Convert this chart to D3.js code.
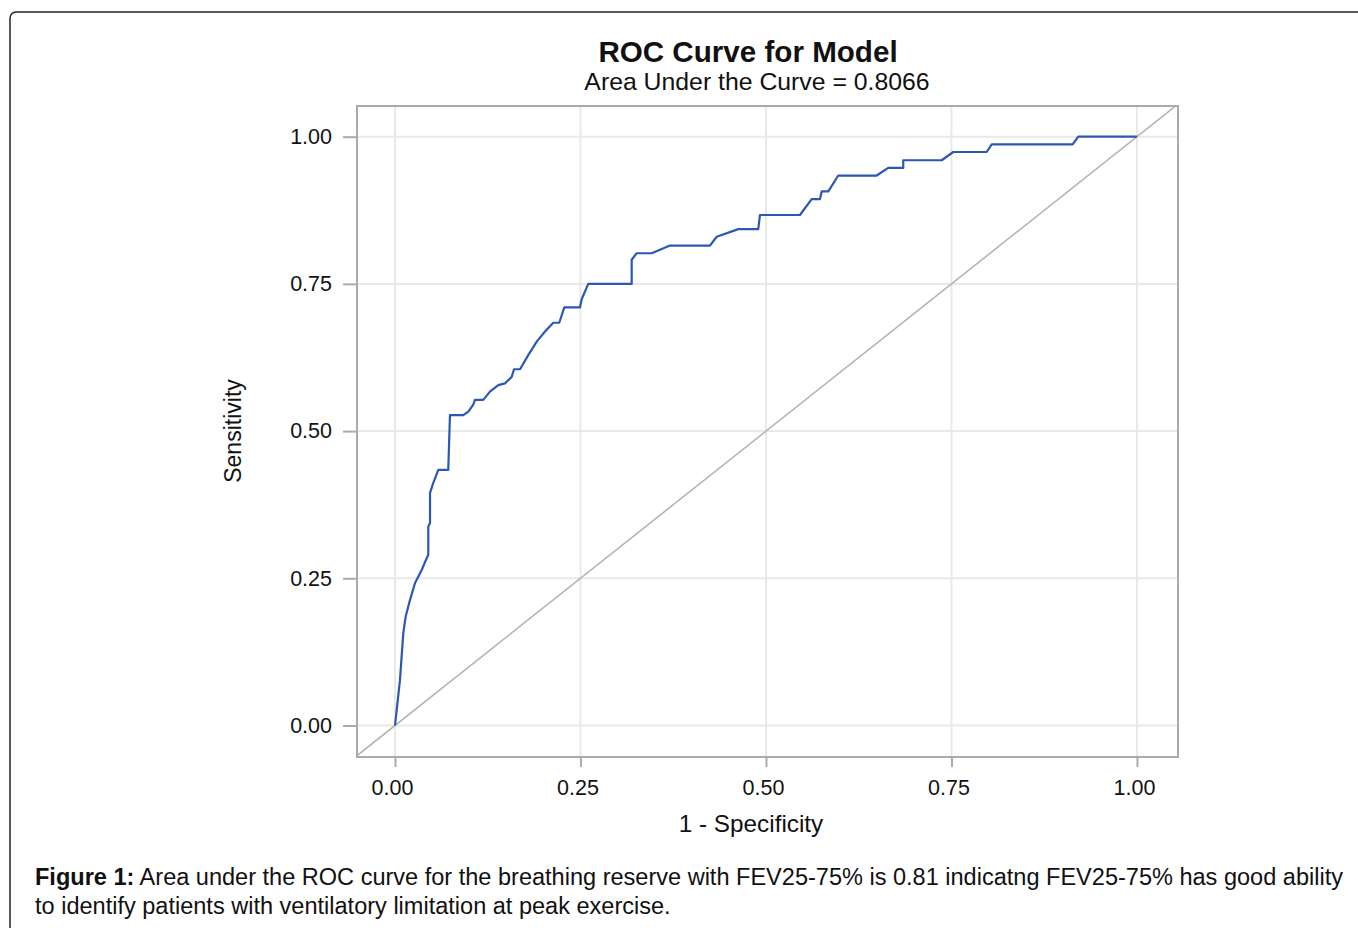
<!DOCTYPE html>
<html><head><meta charset="utf-8">
<script src="https://cdn.jsdelivr.net/npm/d3@7"></script>
<style>body{margin:0;background:#fff;}svg{display:block;}</style>
</head><body>
<svg id="chart" width="1358" height="928"></svg>
<script>
// ROC curve points: 1 - specificity (fpr) and sensitivity (tpr)
const fpr = [0, 0.0067, 0.0112, 0.0144, 0.0202, 0.027, 0.036, 0.0427, 0.0449, 0.0449, 0.0472, 0.0472, 0.0516, 0.0584, 0.0718, 0.0741, 0.092, 0.0988, 0.1055, 0.1078, 0.119, 0.128, 0.1392, 0.1482, 0.1573, 0.1604, 0.1685, 0.1796, 0.191, 0.2022, 0.2133, 0.2214, 0.2282, 0.2493, 0.2516, 0.2605, 0.319, 0.319, 0.3257, 0.346, 0.3706, 0.4245, 0.4336, 0.4627, 0.4896, 0.4919, 0.5458, 0.5616, 0.5728, 0.5751, 0.584, 0.5974, 0.6492, 0.6648, 0.685, 0.685, 0.7368, 0.7524, 0.7974, 0.8042, 0.9133, 0.9209, 1];
const tpr = [0, 0.077, 0.157, 0.185, 0.213, 0.242, 0.264, 0.284, 0.29, 0.338, 0.344, 0.395, 0.412, 0.434, 0.434, 0.527, 0.527, 0.533, 0.545, 0.553, 0.553, 0.567, 0.578, 0.581, 0.592, 0.605, 0.605, 0.629, 0.652, 0.669, 0.684, 0.684, 0.71, 0.71, 0.724, 0.75, 0.75, 0.791, 0.802, 0.802, 0.815, 0.815, 0.83, 0.843, 0.843, 0.867, 0.867, 0.894, 0.894, 0.907, 0.907, 0.934, 0.934, 0.947, 0.947, 0.96, 0.96, 0.974, 0.974, 0.987, 0.987, 1, 1];
const tickValues = [0, 0.25, 0.5, 0.75, 1];
const tickLabels = ["0.00", "0.25", "0.50", "0.75", "1.00"];
const titleText = "ROC Curve for Model";
const subtitleText = "Area Under the Curve = 0.8066";
const xLabel = "1 - Specificity";
const yLabel = "Sensitivity";
const captionBold = "Figure 1:";
const captionLine1 = " Area under the ROC curve for the breathing reserve with FEV25-75% is 0.81 indicatng FEV25-75% has good ability";
const captionLine2 = "to identify patients with ventilatory limitation at peak exercise.";

const svg = d3.select("#chart");
const L = 357, R = 1178, T = 106, B = 757;
const x = d3.scaleLinear().domain([-0.0512, 1.0553]).range([L, R]);
const y = d3.scaleLinear().domain([-0.0535, 1.0521]).range([B, T]);
const font = "'Liberation Sans', Arial, Helvetica, sans-serif";

// outer box
svg.append("rect").attr("x", 10).attr("y", 12).attr("width", 1420).attr("height", 1000)
  .attr("rx", 6).attr("fill", "none").attr("stroke", "#222").attr("stroke-width", 1.5);

svg.append("defs").append("clipPath").attr("id", "clip")
  .append("rect").attr("x", L).attr("y", T).attr("width", R - L).attr("height", B - T);

// grid
const g = svg.append("g");
g.selectAll(".vg").data(tickValues).join("line")
  .attr("x1", d => x(d)).attr("x2", d => x(d)).attr("y1", T).attr("y2", B)
  .attr("stroke", "#e9e9e9").attr("stroke-width", 2);
g.selectAll(".hg").data(tickValues).join("line")
  .attr("y1", d => y(d)).attr("y2", d => y(d)).attr("x1", L).attr("x2", R)
  .attr("stroke", "#e9e9e9").attr("stroke-width", 2);

// diagonal reference
svg.append("line").attr("clip-path", "url(#clip)")
  .attr("x1", x(-0.1)).attr("y1", y(-0.1)).attr("x2", x(1.1)).attr("y2", y(1.1))
  .attr("stroke", "#b5b5b5").attr("stroke-width", 1.6);

// ROC curve
const pts = fpr.map((v, i) => [v, tpr[i]]);
svg.append("path").datum(pts)
  .attr("d", d3.line().x(d => x(d[0])).y(d => y(d[1])))
  .attr("fill", "none").attr("stroke", "#2b58b6").attr("stroke-width", 2.2)
  .attr("stroke-linejoin", "round");

// frame
svg.append("rect").attr("x", L).attr("y", T).attr("width", R - L).attr("height", B - T)
  .attr("fill", "none").attr("stroke", "#a8abad").attr("stroke-width", 2);

// axes
const xAxis = d3.axisBottom(x).tickValues(tickValues).tickFormat((d, i) => tickLabels[i]).tickSize(10).tickSizeOuter(0).tickPadding(13);
const yAxis = d3.axisLeft(y).tickValues(tickValues).tickFormat((d, i) => tickLabels[i]).tickSize(14).tickSizeOuter(0).tickPadding(11);
const xa = svg.append("g").attr("transform", `translate(0,${B})`).call(xAxis);
const ya = svg.append("g").attr("transform", `translate(${L},0)`).call(yAxis);
[xa, ya].forEach(a => {
  a.select(".domain").remove();
  a.selectAll(".tick line").attr("stroke", "#a8abad").attr("stroke-width", 2);
  a.selectAll(".tick text").attr("fill", "#111").style("font-family", font).style("font-size", "21.5px");
});
xa.selectAll(".tick text").attr("dx", -3);

// titles
svg.append("text").attr("x", 748).attr("y", 62).attr("text-anchor", "middle")
  .style("font-family", font).style("font-size", "29.6px").style("font-weight", "bold").attr("fill", "#111").text(titleText);
svg.append("text").attr("x", 757).attr("y", 90).attr("text-anchor", "middle")
  .style("font-family", font).style("font-size", "24.8px").attr("fill", "#111").text(subtitleText);
svg.append("text").attr("x", 751).attr("y", 832).attr("text-anchor", "middle")
  .style("font-family", font).style("font-size", "24.3px").attr("fill", "#111").text(xLabel);
svg.append("text").attr("transform", "translate(241,431) rotate(-90)").attr("text-anchor", "middle")
  .style("font-family", font).style("font-size", "23px").attr("fill", "#111").text(yLabel);

// caption
const capFont = "'Liberation Sans Narrow', 'Arial Narrow', 'Liberation Sans', Arial, sans-serif";
const c1 = svg.append("text").attr("x", 35).attr("y", 885).style("font-family", capFont).style("font-size", "24px").attr("fill", "#111");
c1.append("tspan").style("font-weight", "bold").text(captionBold);
c1.append("tspan").text(captionLine1);
const c2 = svg.append("text").attr("x", 35).attr("y", 914).style("font-family", capFont).style("font-size", "24px").attr("fill", "#111").text(captionLine2);
const w1 = c1.node().getComputedTextLength();
const fs = 24 * 1309 / w1;
c1.style("font-size", fs + "px");
c2.style("font-size", fs + "px");
</script>
</body></html>
